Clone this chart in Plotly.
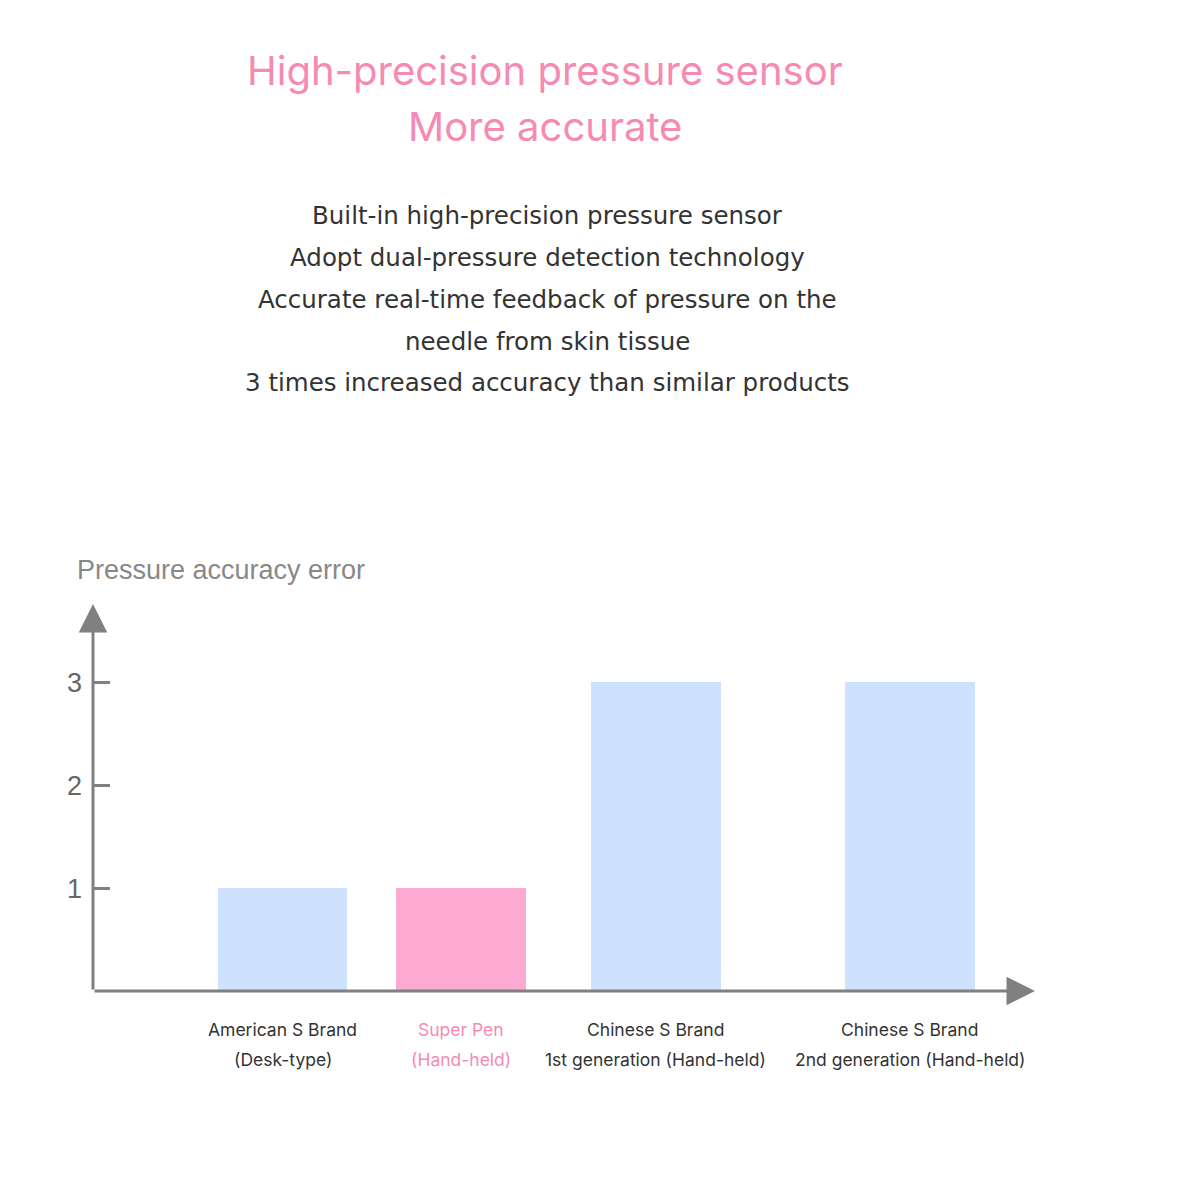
import plotly.graph_objects as go

categories_line1 = ["American S Brand", "Super Pen", "Chinese S Brand", "Chinese S Brand"]
categories_line2 = ["(Desk-type)", "(Hand-held)", "1st generation (Hand-held)", "2nd generation (Hand-held)"]
x_positions = [1.0, 1.94, 2.97, 4.31]
error_values = [1, 1, 3, 3]
bar_colors = ["#cfe2fd", "#fdaad3", "#cfe2fd", "#cfe2fd"]
label_colors = ["#333333", "#f48ab5", "#333333", "#333333"]
y_ticks = [1, 2, 3]

title_lines = ["High-precision pressure sensor", "More accurate"]
desc_lines = [
    "Built-in high-precision pressure sensor",
    "Adopt dual-pressure detection technology",
    "Accurate real-time feedback of pressure on the",
    "needle from skin tissue",
    "3 times increased accuracy than similar products",
]
y_title = "Pressure accuracy error"

W = H = 1190
AX_COLOR = "#808080"
FONT = "Inter"

fig = go.Figure()
fig.add_trace(go.Bar(
    x=x_positions, y=error_values, width=0.684,
    marker=dict(color=bar_colors, line=dict(width=0)),
    hoverinfo="skip", showlegend=False,
))

x_range = [0, 4.97]
y_range = [0, 3.76]

fig.update_layout(
    width=W, height=H,
    margin=dict(l=0, r=0, t=0, b=0),
    paper_bgcolor="white", plot_bgcolor="white",
    bargap=0,
    xaxis=dict(domain=[93 / W, 1035 / W], range=x_range, showgrid=False,
               zeroline=False, showline=False, showticklabels=False, ticks=""),
    yaxis=dict(domain=[1 - 991 / H, 1 - 604 / H], range=y_range, showgrid=False,
               zeroline=False, showline=False, tickvals=y_ticks,
               ticks="inside", ticklen=17, tickwidth=3, tickcolor=AX_COLOR,
               tickfont=dict(family="Liberation Sans", size=27, color="#666666"),
               ticklabelstandoff=10),
)

annotations = []
# axis arrows
annotations.append(dict(x=0, y=y_range[1], ax=0, ay=0, xref="x", yref="y", axref="x", ayref="y",
                        showarrow=True, arrowhead=2, arrowsize=1.9, arrowwidth=3,
                        arrowcolor=AX_COLOR, text=""))
annotations.append(dict(x=x_range[1], y=0, ax=0, ay=0, xref="x", yref="y", axref="x", ayref="y",
                        showarrow=True, arrowhead=2, arrowsize=1.9, arrowwidth=3,
                        arrowcolor=AX_COLOR, text=""))

# titles
for i, t in enumerate(title_lines):
    annotations.append(dict(text=t, x=545 / W, y=1 - (70 + i * 57) / H, xref="paper", yref="paper",
                            showarrow=False, xanchor="center", yanchor="middle",
                            font=dict(family=FONT, size=40, color="#f68ab2")))
for i, t in enumerate(desc_lines):
    annotations.append(dict(text=t, x=547 / W, y=1 - (215 + i * 42) / H, xref="paper", yref="paper",
                            showarrow=False, xanchor="center", yanchor="middle",
                            font=dict(family="DejaVu Sans", size=24.5, color="#333333")))
annotations.append(dict(text=y_title, x=75 / W, y=1 - 570 / H, xref="paper", yref="paper",
                        showarrow=False, xanchor="left", yanchor="middle",
                        font=dict(family="Liberation Sans", size=27, color="#888888")))

# category labels
for xp, l1, l2, c in zip(x_positions, categories_line1, categories_line2, label_colors):
    annotations.append(dict(text=l1, x=xp, y=1 - 1029 / H, xref="x", yref="paper",
                            showarrow=False, xanchor="center", yanchor="middle",
                            font=dict(family=FONT, size=17.5, color=c)))
    annotations.append(dict(text=l2, x=xp, y=1 - 1059 / H, xref="x", yref="paper",
                            showarrow=False, xanchor="center", yanchor="middle",
                            font=dict(family=FONT, size=17.5, color=c)))

fig.update_layout(annotations=annotations)

fig.write_html("out.html")
